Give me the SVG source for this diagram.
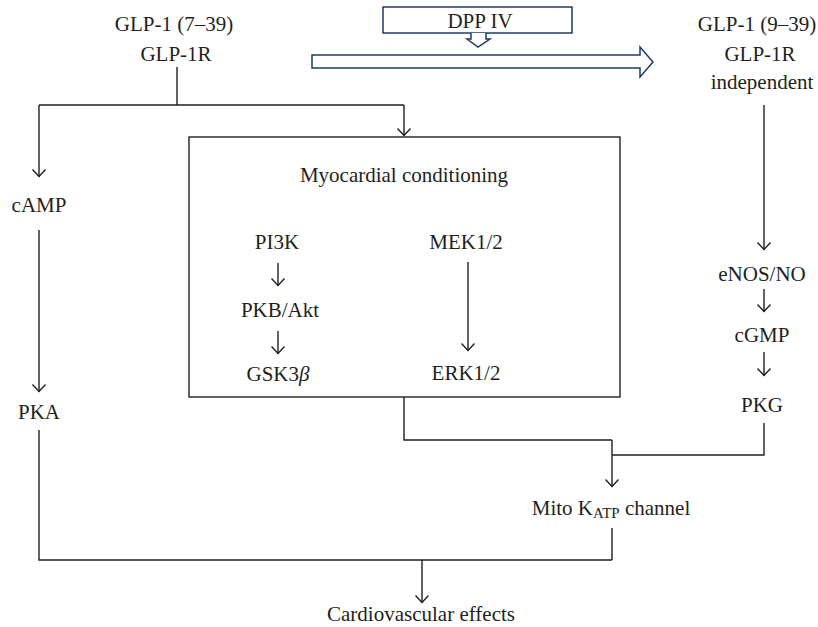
<svg xmlns="http://www.w3.org/2000/svg" width="818" height="627" viewBox="0 0 818 627">
<style>
text{font-family:"Liberation Serif","Times New Roman",serif;font-size:21px;fill:#231f20;text-anchor:middle}
.ln{fill:none;stroke:#231f20;stroke-width:1.4}
.ar{fill:none;stroke:#231f20;stroke-width:1.4;marker-end:url(#ah)}
.blue{fill:#fff;stroke:#1f3b63;stroke-width:1.5}
</style>
<defs>
<marker id="ah" markerUnits="userSpaceOnUse" markerWidth="12" markerHeight="16" refX="8.5" refY="8" orient="auto" viewBox="0 0 12 16">
<path d="M1,1.5 L8,8 L1,14.5" fill="none" stroke="#231f20" stroke-width="1.4"/>
</marker>
</defs>
<rect width="818" height="627" fill="#fff"/>
<g id="connectors">
<path class="ln" d="M177,67 V105 M39,105 H404"/>
<path class="ar" d="M39,105 V177"/>
<path class="ar" d="M404,105 V136"/>
<path class="ar" d="M39,230 V392"/>
<path class="ln" d="M39,430 V560 H612 M612,528 V560"/>
<path class="ar" d="M422,560 V603"/>
<path class="ar" d="M278,263 V286"/>
<path class="ar" d="M278,331 V354"/>
<path class="ar" d="M468,262 V351"/>
<path class="ln" d="M404,397 V440 H612"/>
<path class="ar" d="M612,440 V487"/>
<path class="ln" d="M764,423 V455 H612"/>
<path class="ar" d="M764,105 V250"/>
<path class="ar" d="M764,289 V312"/>
<path class="ar" d="M764,352 V376"/>
</g>
<g id="dpp4">
<rect class="blue" x="383" y="7" width="189" height="26"/>
<path class="blue" d="M471,33 V39 H467 L478,47 L490,39 H486 V33"/>
<text x="480" y="28" font-size="23">DPP IV</text>
</g>
<g id="bigarrow">
<polygon class="blue" points="312,55 640,55 640,47 653,62 640,77 640,68 312,68"/>
</g>
<g id="glp1-7-39">
<text x="174" y="31">GLP-1 (7–39)</text>
<text x="176" y="61">GLP-1R</text>
</g>
<g id="glp1-9-39">
<text x="757" y="31">GLP-1 (9–39)</text>
<text x="760" y="61">GLP-1R</text>
<text x="762" y="89">independent</text>
</g>
<g id="myocardial">
<rect x="189" y="137" width="431" height="260" fill="none" stroke="#231f20" stroke-width="1.4"/>
<text x="404" y="182">Myocardial conditioning</text>
</g>
<g id="pi3k"><text x="277" y="249">PI3K</text></g>
<g id="pkb"><text x="280" y="317">PKB/Akt</text></g>
<g id="gsk"><text x="278" y="381">GSK3<tspan font-style="italic">β</tspan></text></g>
<g id="mek"><text x="466" y="249">MEK1/2</text></g>
<g id="erk"><text x="466" y="380">ERK1/2</text></g>
<g id="camp"><text x="39" y="212">cAMP</text></g>
<g id="pka"><text x="39" y="419">PKA</text></g>
<g id="enos"><text x="762" y="281">eNOS/NO</text></g>
<g id="cgmp"><text x="762" y="342">cGMP</text></g>
<g id="pkg"><text x="762" y="412">PKG</text></g>
<g id="mito"><text x="611" y="515">Mito K<tspan font-size="15" dy="3">ATP</tspan><tspan dy="-3"> channel</tspan></text></g>
<g id="cardio"><text x="421" y="621">Cardiovascular effects</text></g>
</svg>
